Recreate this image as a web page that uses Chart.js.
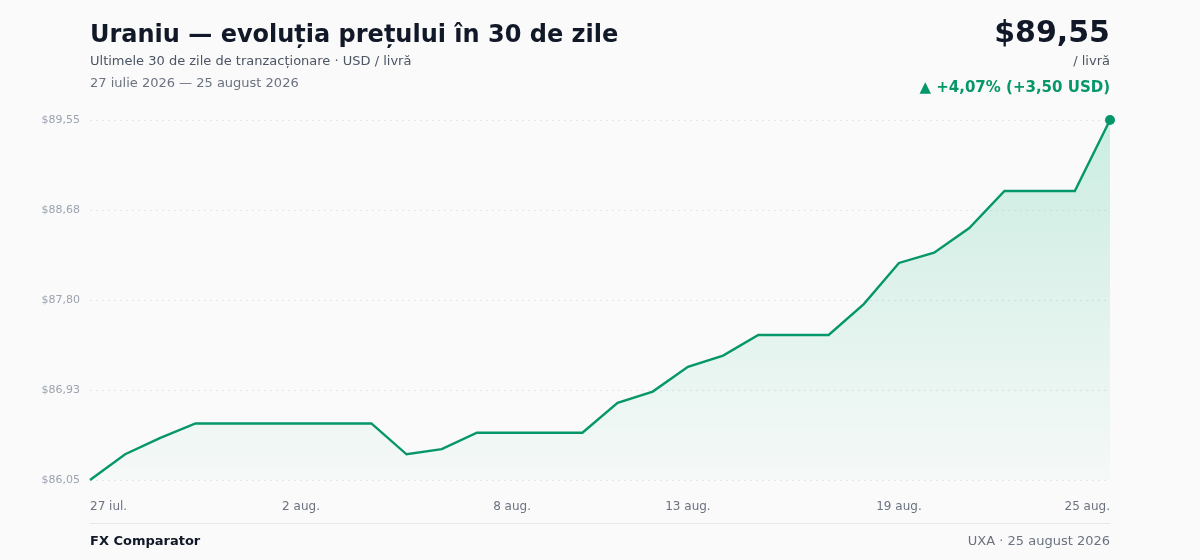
<!DOCTYPE html>
<html lang="ro">
<head>
<meta charset="utf-8">
<script src="https://cdn.jsdelivr.net/npm/chart.js@4.4.1/dist/chart.umd.min.js"></script>
<style>
  html, body { margin: 0; padding: 0; background: #fafafa; }
  body { font-family: "DejaVu Sans", sans-serif; }
  #wrap { position: relative; width: 1200px; height: 560px; overflow: hidden; }
  #priceChart { position: absolute; left: 0; top: 0; }
  .t { position: absolute; white-space: nowrap; }
  #title { left: 90px; top: 20px; font-size: 24px; font-weight: bold; color: #111827; }
  #sub { left: 90px; top: 53px; font-size: 13px; color: #4b5563; }
  #range { left: 90px; top: 75px; font-size: 13px; color: #6b7280; }
  #price { right: 90px; top: 14px; font-size: 30px; font-weight: bold; color: #111827; }
  #unit { right: 90px; top: 53px; font-size: 13px; color: #4b5563; }
  #change { right: 90px; top: 78px; font-size: 15px; font-weight: bold; color: #059669; }
  #rule { position: absolute; left: 90px; top: 523px; width: 1020px; height: 1px; background: #e5e7eb; }
  #brand { left: 90px; top: 533px; font-size: 13px; font-weight: bold; color: #111827; }
  #source { right: 90px; top: 533px; font-size: 13px; color: #6b7280; }
</style>
</head>
<body>
<div id="wrap">
  <canvas id="priceChart" width="1200" height="560"></canvas>
  <div class="t" id="title">Uraniu — evoluția prețului în 30 de zile</div>
  <div class="t" id="sub">Ultimele 30 de zile de tranzacționare · USD / livră</div>
  <div class="t" id="range">27 iulie 2026 — 25 august 2026</div>
  <div class="t" id="price">$89,55</div>
  <div class="t" id="unit">/ livră</div>
  <div class="t" id="change">▲ +4,07% (+3,50 USD)</div>
  <div id="rule"></div>
  <div class="t" id="brand">FX Comparator</div>
  <div class="t" id="source">UXA · 25 august 2026</div>
</div>
<script>
// Date (27 iul. - 25 aug.)
const days = [
  '27 iul.', '28 iul.', '29 iul.', '30 iul.', '31 iul.',
  '1 aug.', '2 aug.', '3 aug.', '4 aug.', '5 aug.', '6 aug.', '7 aug.', '8 aug.',
  '9 aug.', '10 aug.', '11 aug.', '12 aug.', '13 aug.', '14 aug.', '15 aug.', '16 aug.',
  '17 aug.', '18 aug.', '19 aug.', '20 aug.', '21 aug.', '22 aug.', '23 aug.', '24 aug.', '25 aug.'
];

// USD / livra
const prices = [
  86.05, 86.30, 86.46, 86.60, 86.60, 86.60, 86.60, 86.60, 86.60, 86.30,
  86.35, 86.51, 86.51, 86.51, 86.51, 86.80, 86.91, 87.15, 87.26, 87.46,
  87.46, 87.46, 87.76, 88.16, 88.26, 88.50, 88.86, 88.86, 88.86, 89.55
];

const shownDays = ['27 iul.', '2 aug.', '8 aug.', '13 aug.', '19 aug.', '25 aug.'];
const yTicks = [86.05, 86.925, 87.80, 88.675, 89.55];

const fmt = v => (v + 1e-9).toFixed(2).replace('.', ',');

const ctx = document.getElementById('priceChart').getContext('2d');

new Chart(ctx, {
  type: 'line',
  data: {
    labels: days,
    datasets: [{
      data: prices,
      borderColor: '#059669',
      borderWidth: 2.4,
      tension: 0,
      fill: 'start',
      backgroundColor: (c) => {
        const area = c.chart.chartArea;
        if (!area) return 'rgba(5,150,105,0.1)';
        const g = c.chart.ctx.createLinearGradient(0, area.top, 0, area.bottom);
        g.addColorStop(0, 'rgba(16,185,129,0.20)');
        g.addColorStop(1, 'rgba(16,185,129,0.02)');
        return g;
      },
      pointRadius: (c) => c.dataIndex === prices.length - 1 ? 5 : 0,
      pointBackgroundColor: '#059669',
      pointBorderWidth: 0,
      clip: false
    }]
  },
  options: {
    responsive: false,
    animation: false,
    layout: { padding: { left: 0, right: 90, top: 120, bottom: 40 } },
    plugins: {
      legend: { display: false },
      tooltip: { enabled: false }
    },
    scales: {
      x: {
        grid: { display: false },
        border: { display: false },
        afterFit: (s) => { s.height = 40; },
        ticks: {
          autoSkip: false,
          maxRotation: 0,
          align: 'inner',
          padding: 12,
          color: '#6b7280',
          font: { family: 'DejaVu Sans', size: 12 },
          callback: function (v, i) {
            const lab = days[i];
            return shownDays.includes(lab) ? lab : '';
          }
        }
      },
      y: {
        min: 86.05,
        max: 89.55,
        afterFit: (s) => { s.width = 90; },
        afterBuildTicks: (s) => { s.ticks = yTicks.map(v => ({ value: v })); },
        border: { display: false, dash: [2, 4] },
        grid: {
          color: '#e5e7eb',
          lineWidth: 1,
          drawTicks: false
        },
        ticks: {
          padding: 10,
          color: '#9ca3af',
          font: { family: 'DejaVu Sans', size: 11 },
          callback: (v) => '$' + fmt(v)
        }
      }
    }
  }
});
</script>
</body>
</html>
